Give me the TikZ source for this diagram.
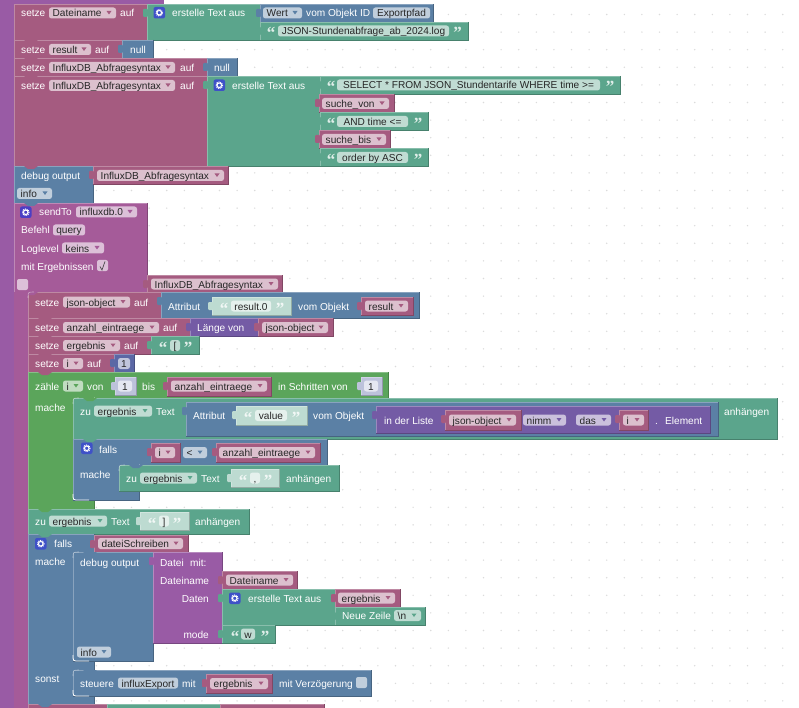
\documentclass[tikz,border=0pt]{standalone}
\usepackage{fontspec}
\setmainfont{Liberation Sans}
\newfontfamily\quotefont{Liberation Serif}
\usepackage{xcolor}

\definecolor{cOuter}{HTML}{995BA5}
\definecolor{cSend}{HTML}{A55B99}
\definecolor{cVar}{HTML}{A55B80}
\definecolor{cText}{HTML}{5BA58C}
\definecolor{cLogic}{HTML}{5B80A5}
\definecolor{cList}{HTML}{745BA5}
\definecolor{cLoop}{HTML}{5BA55B}
\definecolor{cNum}{HTML}{5B67A5}
\definecolor{cTextL}{HTML}{BDDBD1}
\definecolor{cNumL}{HTML}{BDC2DB}
\definecolor{cIcon}{HTML}{3F51C8}
\definecolor{cIconS}{HTML}{4B3FC4}

\newcount\nodeid
% Block: colour, x1, y1, x2, y2
\newcommand{\brick}[5]{%
  \fill[#1] (#2,#3) rectangle (#4,#5);
  \draw[#1!78!black, line width=.6pt] (#4,#3) -- (#4,#5) -- (#2,#5);
  \draw[#1!72!white, line width=.5pt] (#2,#5) -- (#2,#3) -- (#4,#3);
}
% Value block: same, with its tab on the left
\newcommand{\vbrick}[5]{%
  \brick{#1}{#2}{#3}{#4}{#5}
  \fill[#1, rounded corners=1pt] ({#2-4},{#3+5}) rectangle ({#2+1},{#3+13});
}
% Notch of the block above: colour, x, y
\newcommand{\notch}[3]{%
  \fill[#1] ({#2+10},#3) -- ({#2+14},{#3+3}) -- ({#2+20},{#3+3}) -- ({#2+24},#3) -- cycle;
}
% Label: x, y, text
\newcommand{\lbl}[3]{%
  \global\advance\nodeid by 1
  \node[lbltext, anchor=west] (lbl\the\nodeid) at (#1,#2) {#3};
}
\newcommand{\lblr}[3]{%
  \global\advance\nodeid by 1
  \node[lbltext, anchor=east] (lbl\the\nodeid) at (#1,#2) {#3};
}
% Dropdown field: arrow colour, x1, x2, y, text
\newcommand{\fld}[5]{%
  \global\advance\nodeid by 1
  \fill[fieldbg] (#2,{#4-5.5}) rectangle (#3,{#4+5.5});
  \node[fldtext, anchor=west] (fld\the\nodeid) at ({#2+3.5},#4) {#5};
  \fill[#1] ({#3-9.5},{#4-2}) -- ({#3-4.5},{#4-2}) -- ({#3-7},{#4+1.5}) -- cycle;
}
% Plain field, text centred: x1, x2, y, text
\newcommand{\fldp}[4]{%
  \global\advance\nodeid by 1
  \fill[fieldbg] (#1,{#3-5.5}) rectangle (#2,{#3+5.5});
  \node[fldtext] (fld\the\nodeid) at ({(#1+#2)/2},#3) {#4};
}
% Quotes: x, y of the row, open or close sign
\newcommand{\qt}[3]{%
  \global\advance\nodeid by 1
  \node[qtext, anchor=base] (qt\the\nodeid) at (#1,{#2+8}) {#3};
}
% Gear icon: colour, x, y (left top)
\newcommand{\gear}[3]{%
  \fill[#1, rounded corners=2pt] (#2,#3) rectangle ({#2+11.5},{#3+11.5});
  \draw[white, line width=1.1pt] ({#2+5.75},{#3+5.75}) circle (2.3);
  \draw[white, line width=1pt, dash pattern=on .9pt off .9pt] ({#2+5.75},{#3+5.75}) circle (3.3);
}
% Tick box: x, y (left top)
\newcommand{\tickbox}[2]{%
  \fill[fieldbg, rounded corners=2pt] (#1,#2) rectangle ({#1+11},{#2+11});
}
% Rounded lower corner of an inner block: x, y
\newcommand{\corner}[2]{%
  \draw[white, line width=.8pt] (#1,{#2-6}) .. controls (#1,#2) .. ({#1+6},#2) -- ({#1+16},#2);
}
% Rounded upper corner of an inner block: parent colour, x, y
\newcommand{\topcorner}[3]{%
  \fill[#1] ({#2-.5},{#3-.5}) -- ({#2+6},{#3-.5}) .. controls (#2,#3) .. ({#2-.5},{#3+6}) -- cycle;
  \draw[white, opacity=.45, line width=.6pt] ({#2+6},#3) .. controls (#2,#3) .. (#2,{#3+6});
}

\begin{document}
\begin{tikzpicture}[x=1pt, y=-1pt]
  % ================= Styles =================
  \tikzset{
    lbltext/.style={text=white, font=\fontsize{10.1}{12}\selectfont, inner sep=0pt, text height=8pt, text depth=0pt},
    fldtext/.style={text=black!85, font=\fontsize{10.1}{12}\selectfont, inner sep=0pt, text height=8pt, text depth=0pt},
    qtext/.style={text=white, text opacity=.8, font=\quotefont\bfseries\fontsize{17}{17}\selectfont, inner sep=0pt},
    fieldbg/.style={white, fill opacity=.62, rounded corners=2.5pt},
    griddot/.style={fill=black!14}
  }
  \useasboundingbox (0,0) rectangle (799,708);
  \clip (0,0) rectangle (799,708);

  % ================= Background dots =================
  \foreach \i in {0,...,46}{
    \foreach \j in {0,...,40}{
      \fill[griddot] ({-9.3+17.6*\i},{-3.1+17.6*\j}) circle (.8);
    }
  }

  % ================= Outer strip =================
  \fill[cOuter] (0,0) rectangle (14,708);
  \fill[cOuter] (0,0) rectangle (164,4);

  % ================= 1. Dateiname =================
  \brick{cVar}{14}{4}{147}{40}
  \lbl{21}{13}{setze} \fld{cVar}{49}{116}{13}{Dateiname} \lbl{120}{13}{auf}
  \vbrick{cText}{147}{4}{260}{40}
  \gear{cIcon}{153.5}{7}
  \lbl{172}{13}{erstelle Text aus}
  \vbrick{cLogic}{260}{4}{433}{22}
  \fld{cLogic}{263}{302}{13}{Wert} \lbl{306}{13}{vom Objekt ID} \fldp{373}{430}{13}{Exportpfad}
  \vbrick{cText}{260}{22}{468}{40}
  \qt{271}{31}{“} \fldp{278}{449}{31}{JSON-Stundenabfrage\_ab\_2024.log} \qt{457.5}{31}{”}

  % ================= 2. result =================
  \brick{cVar}{14}{40}{122}{58}
  \notch{cVar}{14}{40}
  \lbl{21}{49.5}{setze} \fld{cVar}{49}{91}{49.5}{result} \lbl{95}{49.5}{auf}
  \vbrick{cLogic}{122}{40}{153}{58}
  \lbl{130}{49.5}{null}

  % ================= 3. Abfragesyntax null =================
  \brick{cVar}{14}{58}{207}{76}
  \notch{cVar}{14}{58}
  \lbl{21}{67.5}{setze} \fld{cVar}{49}{175}{67.5}{InfluxDB\_Abfragesyntax} \lbl{180}{67.5}{auf}
  \vbrick{cLogic}{207}{58}{237}{76}
  \lbl{214}{67.5}{null}

  % ================= 4. Abfragesyntax Text =================
  \brick{cVar}{14}{76}{207}{166}
  \notch{cVar}{14}{76}
  \lbl{21}{85.5}{setze} \fld{cVar}{49}{175}{85.5}{InfluxDB\_Abfragesyntax} \lbl{180}{85.5}{auf}
  \vbrick{cText}{207}{76}{320}{166}
  \gear{cIcon}{213.5}{79.5}
  \lbl{232}{85.5}{erstelle Text aus}
  \vbrick{cText}{320}{76}{620}{94}
  \qt{331}{85}{“} \fldp{337}{600}{85}{SELECT * FROM JSON\_Stundentarife WHERE time >=} \qt{610}{85}{”}
  \vbrick{cVar}{319}{94}{394}{112}
  \fld{cVar}{322}{389}{103.5}{suche\_von}
  \vbrick{cText}{320}{112}{428}{130}
  \qt{331}{121.5}{“} \fldp{337}{408}{121.5}{AND time <=} \qt{418}{121.5}{”}
  \vbrick{cVar}{319}{130}{390}{148}
  \fld{cVar}{322}{386}{139.5}{suche\_bis}
  \vbrick{cText}{320}{148}{428}{166}
  \qt{331}{157.5}{“} \fldp{337}{408}{157.5}{order by ASC} \qt{418}{157.5}{”}

  % ================= 5. debug output =================
  \brick{cLogic}{14}{166}{93}{203}
  \notch{cVar}{14}{166}
  \lbl{21}{176}{debug output}
  \vbrick{cVar}{93}{166}{228}{184}
  \fld{cVar}{97}{224}{175.5}{InfluxDB\_Abfragesyntax}
  \fld{cLogic}{17}{52}{193.5}{info}

  % ================= 6. sendTo =================
  \brick{cSend}{14}{203}{147}{292}
  \notch{cLogic}{14}{203}
  \fill[cSend] (14,292) rectangle (28,708);
  \gear{cIconS}{20}{206.5}
  \lbl{39}{212}{sendTo} \fld{cSend}{76}{137}{212}{influxdb.0}
  \lbl{21}{230}{Befehl} \fldp{53}{85}{230}{query}
  \lbl{21}{248}{Loglevel} \fld{cSend}{62}{104}{248}{keins}
  \lbl{21}{266}{mit Ergebnissen}
  \tickbox{97}{260}
  \draw[black!70, line width=.7pt] (100,266.5) -- (102,270) -- (105,261.5);
  \tickbox{17}{279}
  \vbrick{cVar}{147}{275}{282}{293}
  \fld{cVar}{151}{278}{284}{InfluxDB\_Abfragesyntax}

  % ================= 7. json-object =================
  \brick{cVar}{28}{292}{161}{318}
  \notch{cSend}{14}{292}
  \topcorner{cSend}{28}{292}
  \lbl{35}{302}{setze} \fld{cVar}{63}{130}{302}{json-object} \lbl{134}{302}{auf}
  \vbrick{cLogic}{161}{292}{419}{318}
  \lbl{168}{306}{Attribut}
  \vbrick{cTextL}{212}{297}{291}{315}
  \qt{224}{306}{“} \fldp{231}{271}{306}{result.0} \qt{280}{306}{”}
  \lbl{298}{306}{vom Objekt}
  \vbrick{cVar}{361}{297}{413}{315}
  \fld{cVar}{365}{408}{306}{result}

  % ================= 8. anzahl_eintraege =================
  \brick{cVar}{28}{318}{190}{336}
  \notch{cVar}{28}{318}
  \lbl{35}{327.5}{setze} \fld{cVar}{63}{159}{327.5}{anzahl\_eintraege} \lbl{163}{327.5}{auf}
  \vbrick{cList}{190}{318}{258}{336}
  \lbl{197}{327.5}{Länge von}
  \vbrick{cVar}{258}{318}{333}{336}
  \fld{cVar}{262}{328}{327.5}{json-object}

  % ================= 9. ergebnis =================
  \brick{cVar}{28}{336}{151}{354}
  \notch{cVar}{28}{336}
  \lbl{35}{345.5}{setze} \fld{cVar}{63}{120}{345.5}{ergebnis} \lbl{124}{345.5}{auf}
  \vbrick{cText}{151}{336}{199}{354}
  \qt{163}{345.5}{“} \fldp{170}{180}{345.5}{[} \qt{188}{345.5}{”}

  % ================= 10. i =================
  \brick{cVar}{28}{354}{114}{372}
  \notch{cVar}{28}{354}
  \lbl{35}{363.5}{setze} \fld{cVar}{63}{83}{363.5}{i} \lbl{87}{363.5}{auf}
  \vbrick{cNum}{114}{354}{134}{372}
  \fldp{118}{130}{363.5}{1}

  % ================= 11. zaehle =================
  \brick{cLoop}{28}{372}{94}{509}
  \brick{cLoop}{94}{372}{388}{398}
  \fill[cLoop] (90,373) rectangle (96,397);
  \notch{cVar}{28}{372}
  \lbl{35}{386}{zähle} \fld{cLoop}{63}{83}{386}{i} \lbl{87}{386}{von}
  \vbrick{cNumL}{115}{377}{136}{395}
  \fldp{118}{132}{386}{1}
  \lbl{142}{386}{bis}
  \vbrick{cVar}{167}{377}{271}{396}
  \fld{cVar}{171}{267}{386}{anzahl\_eintraege}
  \lbl{278}{386}{in Schritten von}
  \vbrick{cNumL}{361}{377}{382}{395}
  \fldp{364}{378}{386}{1}
  \lbl{35}{407}{mache}

  % ================= 12. zu ergebnis =================
  \brick{cText}{73}{398}{777}{439}
  \notch{cLoop}{73}{398}
  \topcorner{cLoop}{73}{398}
  \lbl{80}{411}{zu} \fld{cText}{94}{152}{411}{ergebnis} \lbl{156}{411}{Text}
  \vbrick{cLogic}{186}{402}{718}{436}
  \lbl{193}{415.5}{Attribut}
  \vbrick{cTextL}{236}{406}{307}{425}
  \qt{248}{415.5}{“} \fldp{255}{287}{415.5}{value} \qt{296}{415.5}{”}
  \lbl{313}{415.5}{vom Objekt}
  \vbrick{cList}{376}{406}{710}{433}
  \lbl{384}{420}{in der Liste}
  \vbrick{cVar}{445}{410}{521}{430}
  \fld{cVar}{449}{516}{420}{json-object}
  \fld{cList}{523}{566}{420}{nimm}
  \fld{cList}{576}{611}{420}{das}
  \vbrick{cVar}{619}{410}{648}{430}
  \fld{cVar}{623}{644}{420}{i}
  \lbl{655}{420}{.} \lbl{665}{420}{Element}
  \lbl{724}{411}{anhängen}

  % ================= 13. falls =================
  \brick{cLogic}{73}{439}{139}{500}
  \brick{cLogic}{139}{439}{327}{465}
  \fill[cLogic] (135,440) rectangle (141,464);
  \notch{cText}{73}{439}
  \gear{cIcon}{81}{442.5}
  \lbl{99}{449}{falls}
  \vbrick{cVar}{151}{443}{180}{462}
  \fld{cVar}{155}{175}{452.5}{i}
  \fld{cLogic}{183}{207}{452.5}{<}
  \vbrick{cVar}{216}{443}{320}{462}
  \fld{cVar}{219}{315}{452.5}{anzahl\_eintraege}
  \lbl{80}{474}{mache}
  \corner{73}{500}

  % ================= 14. zu ergebnis Komma =================
  \brick{cText}{119}{465}{339}{491}
  \notch{cLogic}{119}{465}
  \topcorner{cLogic}{119}{465}
  \lbl{126}{478}{zu} \fld{cText}{140}{197}{478}{ergebnis} \lbl{201}{478}{Text}
  \vbrick{cTextL}{231}{469}{279}{487}
  \qt{243}{478}{“} \fldp{250}{260}{478}{,} \qt{268}{478}{”}
  \lbl{286}{478}{anhängen}

  % ================= 15. zu ergebnis Klammer =================
  \brick{cText}{28}{509}{249}{534}
  \notch{cLoop}{28}{509}
  \lbl{35}{521}{zu} \fld{cText}{49}{107}{521}{ergebnis} \lbl{111}{521}{Text}
  \vbrick{cTextL}{140}{512}{189}{530}
  \qt{152}{521}{“} \fldp{159}{169}{521}{]} \qt{177}{521}{”}
  \lbl{195}{521}{anhängen}

  % ================= 16. falls dateiSchreiben =================
  \brick{cLogic}{28}{534}{94}{704}
  \notch{cText}{28}{534}
  \gear{cIcon}{35}{538}
  \lbl{54}{543}{falls} \lbl{35}{561}{mache} \lbl{35}{678}{sonst}
  \vbrick{cVar}{94}{535}{188}{552}
  \fld{cVar}{98}{183}{543.5}{dateiSchreiben}

  % debug output
  \brick{cLogic}{73}{552}{153}{661}
  \notch{cLogic}{73}{552}
  \topcorner{cLogic}{73}{552}
  \lbl{80}{562}{debug output}
  \fld{cLogic}{77}{111}{652}{info}
  \corner{73}{661}
  \vbrick{cOuter}{153}{552}{222}{643}
  \lbl{160}{562}{Datei} \lbl{190}{562}{mit:}
  \lbl{160}{580}{Dateiname}
  \lblr{209}{598}{Daten}
  \lblr{209}{634}{mode}
  \vbrick{cVar}{222}{571}{297}{589}
  \fld{cVar}{226}{293}{580}{Dateiname}
  \vbrick{cText}{222}{589}{335}{625}
  \gear{cIcon}{229}{592.5}
  \lbl{248}{598}{erstelle Text aus}
  \vbrick{cVar}{335}{589}{400}{607}
  \fld{cVar}{338}{395}{598}{ergebnis}
  \vbrick{cText}{335}{607}{425}{625}
  \lbl{342}{615.5}{Neue Zeile} \fld{cText}{394}{421}{615.5}{\textbackslash n}
  \vbrick{cText}{222}{625}{275}{643}
  \qt{235}{634}{“} \fldp{241}{255}{634}{w} \qt{265}{634}{”}

  % steuere
  \brick{cLogic}{73}{670}{371}{696}
  \notch{cLogic}{73}{670}
  \topcorner{cLogic}{73}{670}
  \lbl{80}{683}{steuere} \fldp{118}{178}{683}{influxExport} \lbl{182}{683}{mit}
  \vbrick{cVar}{206}{674}{272}{693}
  \fld{cVar}{210}{268}{683.5}{ergebnis}
  \lbl{279}{683}{mit Verzögerung}
  \tickbox{356}{677}
  \corner{73}{696}

  % ================= 17. cut off at the bottom =================
  \brick{cVar}{28}{704}{107}{712}
  \notch{cLogic}{28}{704}
  \brick{cText}{107}{704}{220}{712}
  \brick{cVar}{220}{704}{324}{712}
\end{tikzpicture}
\end{document}
